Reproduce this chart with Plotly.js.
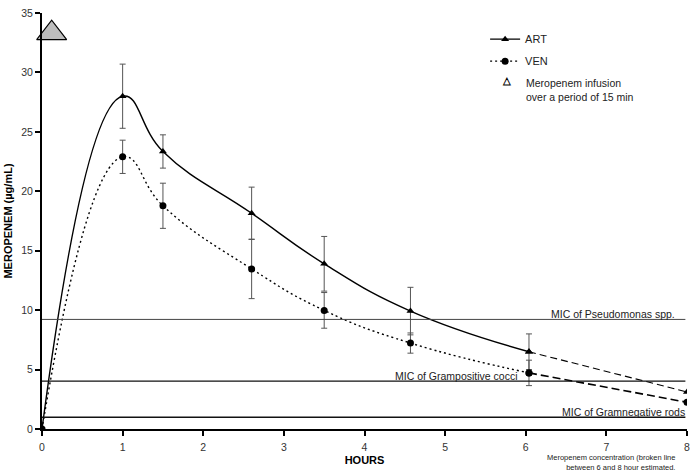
<!DOCTYPE html>
<html>
<head>
<meta charset="utf-8">
<script src="https://cdn.plot.ly/plotly-3.0.1.min.js"></script>
<style>
  html, body { margin: 0; padding: 0; background: #fff; }
  #chart { width: 696px; height: 474px; }
</style>
</head>
<body>
<div id="chart"></div>
<script>
// measured hours and mean concentrations (µg/mL)
const hours = [0, 1, 1.5, 2.6, 3.5, 4.57, 6.04];
const artMean = [0, 28.0, 23.35, 18.15, 13.9, 9.92, 6.5];
const artSd = [null, 2.7, 1.4, 2.2, 2.3, 2.0, 1.5];
const venMean = [0, 22.9, 18.78, 13.47, 9.98, 7.23, 4.72];
const venSd = [null, 1.4, 1.9, 2.5, 1.5, 0.85, 1.07];

// estimated part (broken line between 6 and 8 hours)
const estHours = [6.04, 8];
const artEst = [6.5, 3.12];
const venEst = [4.72, 2.25];

// infusion marker
const infusionX = [0.12];
const infusionY = [33.3];

// MIC reference lines
const micLabels = ["MIC of Pseudomonas spp.", "MIC of Grampositive cocci", "MIC of Gramnegative rods"];
const micValues = [9.22, 4.02, 0.99];

const FONT = "Arial, 'Liberation Sans', sans-serif";

const sdBars = (arr) => ({
  type: "data", array: arr, visible: true,
  color: "#555", thickness: 1, width: 3
});

const traces = [
  {
    x: hours, y: artMean, name: "ART", legendgroup: "art", mode: "lines+markers",
    line: { color: "#000", width: 1.4, shape: "spline", smoothing: 1.3 },
    marker: { symbol: "triangle-up", size: 7, color: "#000" },
    error_y: sdBars(artSd)
  },
  {
    x: hours, y: venMean, name: "VEN", legendgroup: "ven", mode: "lines+markers",
    line: { color: "#000", width: 1.4, dash: "2px,3px", shape: "spline", smoothing: 1.3 },
    marker: { symbol: "circle", size: 7, color: "#000" },
    error_y: sdBars(venSd)
  },
  {
    x: estHours, y: artEst, mode: "lines+markers", showlegend: false,
    line: { color: "#000", width: 1.1, dash: "7px,4px" },
    marker: { symbol: "triangle-up", size: 7, color: "#000" }
  },
  {
    x: estHours, y: venEst, mode: "lines+markers", showlegend: false,
    line: { color: "#000", width: 1.6, dash: "8px,4px" },
    marker: { symbol: "circle", size: 7, color: "#000" }
  },
  {
    x: infusionX, y: infusionY, mode: "markers", showlegend: false, cliponaxis: false,
    marker: { symbol: "triangle-up", size: 26, color: "#bdbdbd", line: { color: "#000", width: 1.2 } }
  }
];

const micShapes = micValues.map((v, i) => ({
  type: "line", xref: "x", yref: "y", x0: 0, x1: 7.98, y0: v, y1: v,
  line: { color: i === 0 ? "#444" : "#111", width: i === 0 ? 1 : 1.3 }
}));

const micAnchors = [
  { x: 7.88, xanchor: "right" },
  { x: 4.35, xanchor: "left" },
  { x: 8.0, xanchor: "right" }
];

const micNotes = micLabels.map((t, i) => ({
  text: t, xref: "x", yref: "y", x: micAnchors[i].x, y: micValues[i],
  xanchor: micAnchors[i].xanchor, yanchor: "bottom", yshift: -3,
  showarrow: false, font: { family: FONT, size: 10.5, color: "#222" }
}));

const layout = {
  width: 696, height: 474,
  paper_bgcolor: "#fff", plot_bgcolor: "#fff",
  font: { family: FONT, size: 10.5, color: "#222" },
  margin: { l: 42, r: 9, t: 13, b: 45 },
  showlegend: true,
  legend: {
    x: 0.687, y: 0.972, xanchor: "left", yanchor: "top",
    bgcolor: "rgba(0,0,0,0)", font: { family: FONT, size: 11, color: "#222" },
    tracegroupgap: 3
  },
  xaxis: {
    range: [0, 8], autorange: false, dtick: 1, showgrid: false, zeroline: false,
    showline: true, linecolor: "#000", linewidth: 2,
    ticks: "outside", ticklen: 5, tickwidth: 2, tickcolor: "#000", ticklabelstandoff: 2,
    tickfont: { family: FONT, size: 10.5, color: "#333" },
    title: { text: "HOURS", standoff: 5, font: { family: FONT, size: 11, weight: "bold", color: "#000" } }
  },
  yaxis: {
    range: [0, 35], autorange: false, dtick: 5, showgrid: false, zeroline: false,
    showline: true, linecolor: "#000", linewidth: 2,
    ticks: "outside", ticklen: 5, tickwidth: 2, tickcolor: "#000",
    tickfont: { family: FONT, size: 10.5, color: "#333" },
    title: { text: "MEROPENEM (µg/mL)", standoff: 6, font: { family: FONT, size: 11, weight: "bold", color: "#000" } }
  },
  shapes: micShapes,
  annotations: [
    ...micNotes,
    {
      text: "△", xref: "paper", yref: "paper", x: (507 - 42) / 645, y: 1 - (81 - 13) / 416,
      xanchor: "center", yanchor: "middle", showarrow: false,
      font: { family: FONT, size: 10, weight: "bold", color: "#000" }
    },
    {
      text: "Meropenem infusion<br>over a period of 15 min", xref: "paper", yref: "paper",
      x: (524 - 42) / 645, y: 1 - (75 - 13) / 416, xanchor: "left", yanchor: "top", align: "left",
      showarrow: false, font: { family: FONT, size: 10.5, color: "#222" }
    },
    {
      text: "Meropenem concentration (broken line<br>between 6 and 8 hour estimated.", xref: "paper", yref: "paper",
      x: (677 - 42) / 645, y: 1 - (451 - 13) / 416, xanchor: "right", yanchor: "top", align: "right",
      showarrow: false, font: { family: FONT, size: 7.5, color: "#222" }
    }
  ]
};

Plotly.newPlot("chart", traces, layout, { displayModeBar: false, staticPlot: true });
</script>
</body>
</html>
